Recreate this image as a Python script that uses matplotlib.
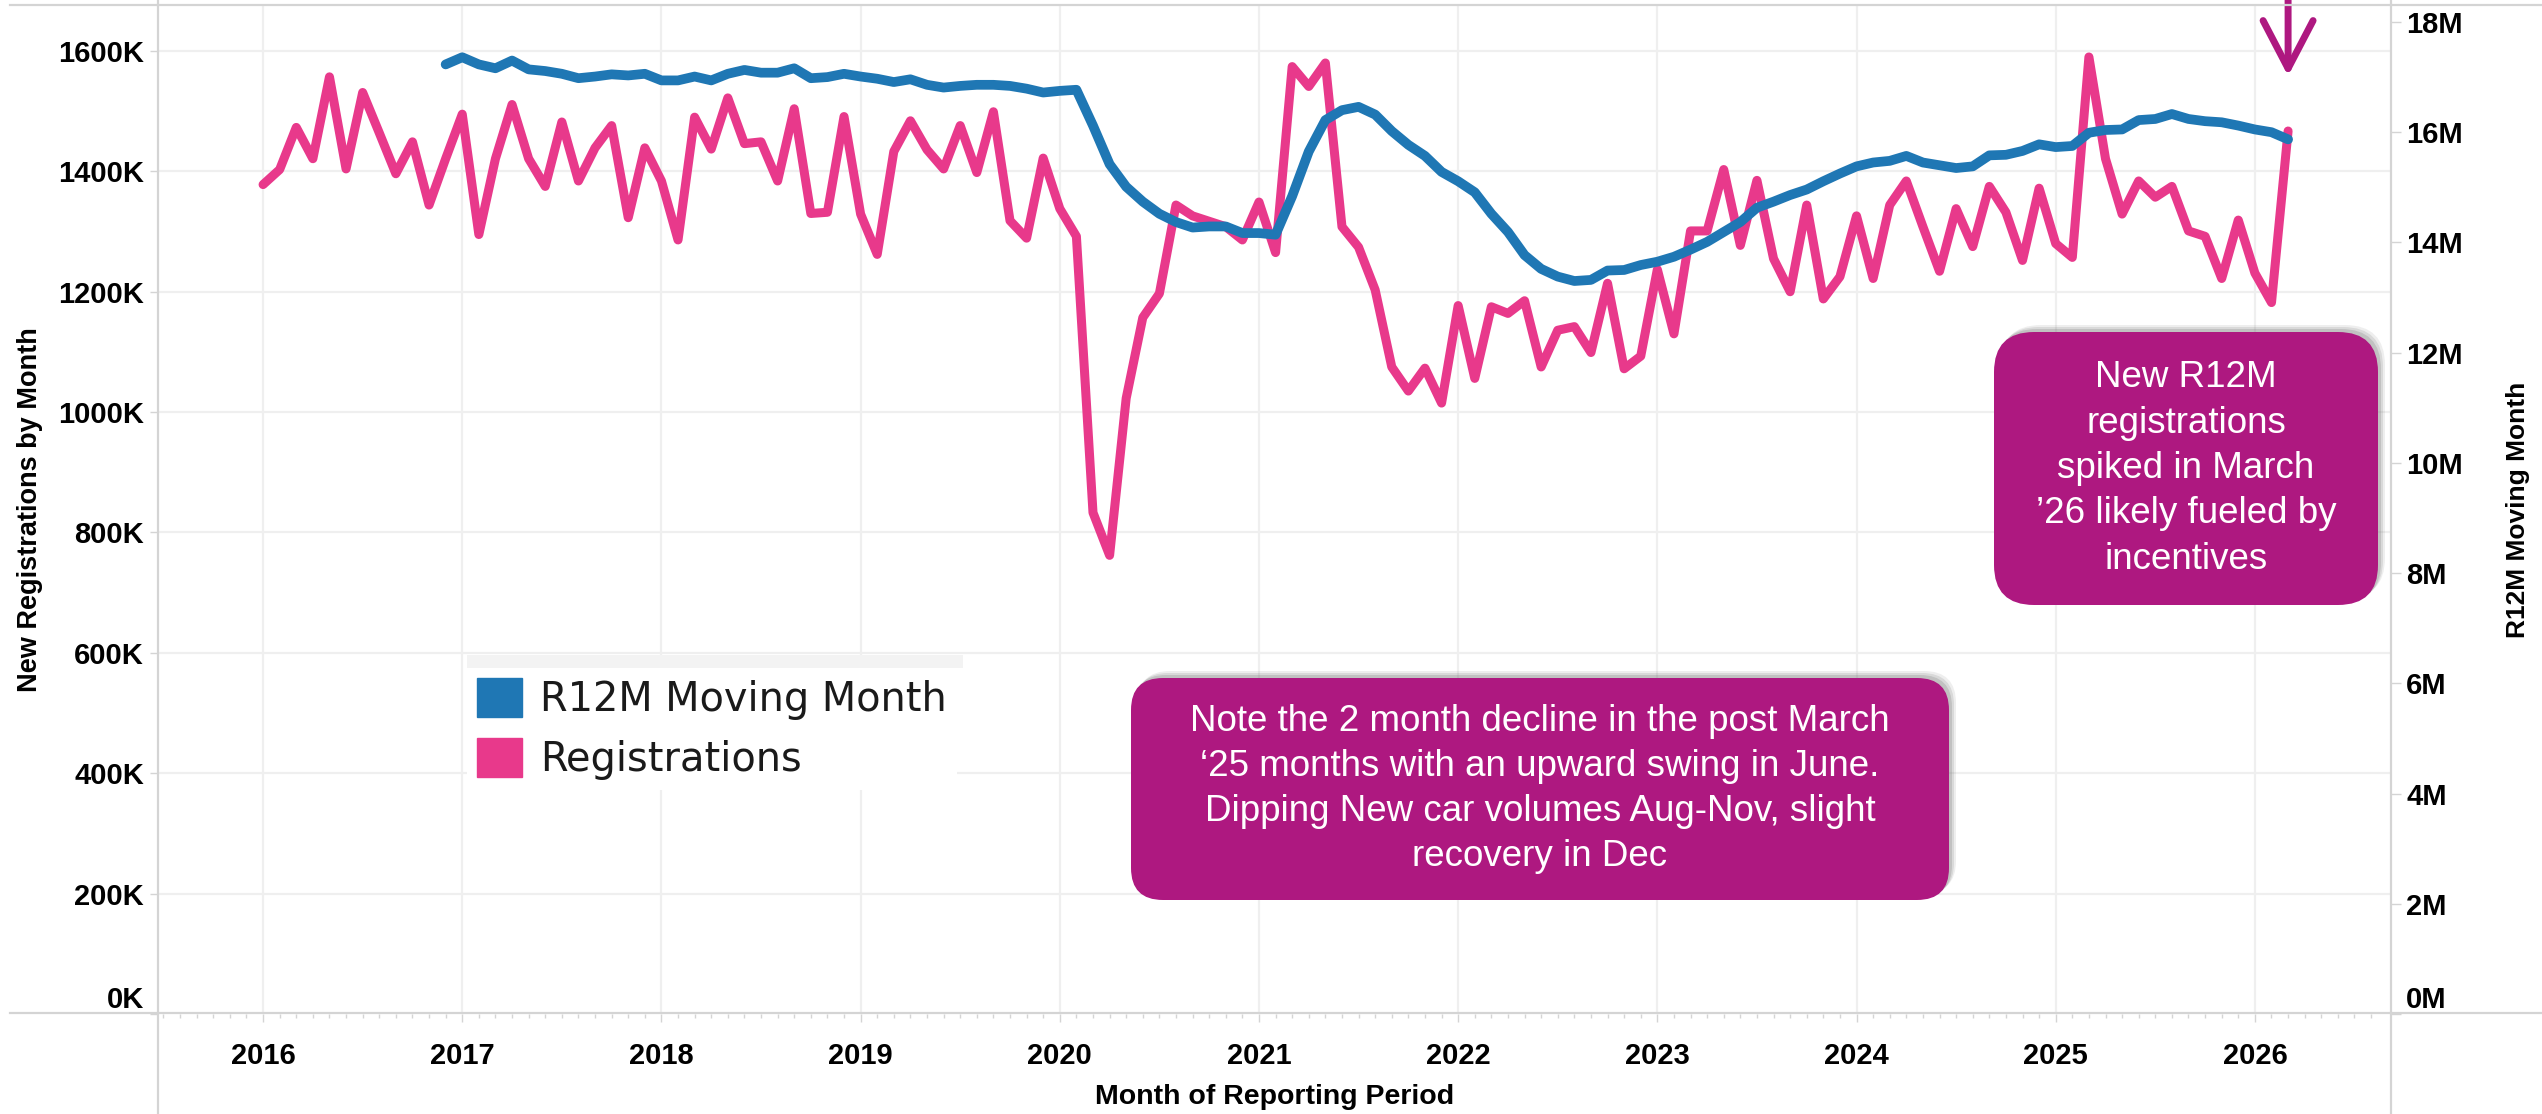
import matplotlib
matplotlib.use('Agg')
import matplotlib.pyplot as plt
import numpy as np
from matplotlib.patches import FancyBboxPatch, Patch, Rectangle
from matplotlib.lines import Line2D
from matplotlib.transforms import IdentityTransform

# monthly new registrations (thousands), Jan 2016 .. Mar 2026
registrations = [
	1378, 1403, 1473, 1421, 1557, 1404, 1531, 1464, 1396, 1449, 1344, 1421,
	1495, 1295, 1421, 1511, 1421, 1375, 1482, 1384, 1439, 1476, 1323, 1439,
	1384, 1286, 1490, 1437, 1522, 1446, 1449, 1384, 1504, 1330, 1332, 1491,
	1329, 1262, 1433, 1484, 1436, 1404, 1476, 1398, 1499, 1318, 1289, 1422,
	1338, 1292, 833, 762, 1023, 1157, 1197, 1344, 1326, 1317, 1308, 1286,
	1349, 1265, 1574, 1541, 1580, 1308, 1274, 1203, 1075, 1035, 1073, 1015,
	1177, 1056, 1175, 1164, 1185, 1075, 1136, 1142, 1099, 1214, 1072, 1093,
	1237, 1130, 1301, 1301, 1403, 1277, 1385, 1255, 1200, 1344, 1188, 1225,
	1326, 1222, 1344, 1384, 1308, 1234, 1338, 1275, 1375, 1332, 1252, 1372,
	1280, 1257, 1590, 1421, 1329, 1384, 1357, 1375, 1301, 1292, 1222, 1319,
	1231, 1182, 1467]

# rolling 12 month total (millions), Dec 2016 .. Mar 2026
r12m_first_month = 11
r12m = [
	17.23,
	17.36, 17.23, 17.16, 17.30, 17.14, 17.11, 17.06, 16.98, 17.01, 17.05, 17.03, 17.06,
	16.94, 16.94, 17.01, 16.94, 17.06, 17.13, 17.08, 17.08, 17.16, 16.98, 17.00, 17.06,
	17.01, 16.97, 16.91, 16.96, 16.86, 16.81, 16.84, 16.86, 16.86, 16.84, 16.79, 16.72,
	16.75, 16.77, 16.12, 15.42, 15.01, 14.74, 14.52, 14.37, 14.27, 14.29, 14.29, 14.17,
	14.17, 14.14, 14.84, 15.65, 16.22, 16.40, 16.46, 16.32, 16.02, 15.77, 15.57, 15.28,
	15.11, 14.91, 14.52, 14.19, 13.77, 13.52, 13.38, 13.30, 13.32, 13.49, 13.50, 13.59,
	13.65, 13.74, 13.87, 14.01, 14.19, 14.37, 14.63, 14.74, 14.86, 14.96, 15.11, 15.25,
	15.38, 15.45, 15.48, 15.57, 15.45, 15.40, 15.35, 15.38, 15.58, 15.59, 15.66, 15.78,
	15.73, 15.75, 15.99, 16.04, 16.05, 16.22, 16.24, 16.33, 16.24, 16.20, 16.18, 16.12,
	16.05, 16.00, 15.87]

years = list(range(2016, 2027))
left_ticks = [0, 200, 400, 600, 800, 1000, 1200, 1400, 1600]
right_ticks = [0, 2, 4, 6, 8, 10, 12, 14, 16, 18]

note_text = ("Note the 2 month decline in the post March\n"
	"\u201825 months with an upward swing in June.\n"
	"Dipping New car volumes Aug-Nov, slight\n"
	"recovery in Dec")
spike_text = ("New R12M\nregistrations\nspiked in March\n"
	"\u201926 likely fueled by\nincentives")

W, H = 2542, 1114
PINK = '#e8398b'
BLUE = '#1f77b4'
MAGENTA = '#ae1880'
GRID = '#efefef'
AXLINE = '#d4d4d4'
ARIAL = ['Liberation Sans', 'DejaVu Sans']


def fx(x):
	return x / W


def fy(y):
	return 1 - y / H


def callout(fig, x0, y0, x1, y1, text, radius):
	# soft shadow up/right, then the box itself (pixel coords)
	for off, a in ((7, 0.12), (5, 0.18), (3, 0.25)):
		sh = FancyBboxPatch((x0 + off, H - y1 + off), x1 - x0, y1 - y0,
			boxstyle='round,pad=0,rounding_size=%d' % radius,
			transform=IdentityTransform(), facecolor='#7a7a7a', edgecolor='none',
			alpha=a, zorder=6)
		fig.add_artist(sh)
	box = FancyBboxPatch((x0, H - y1), x1 - x0, y1 - y0,
		boxstyle='round,pad=0,rounding_size=%d' % radius,
		transform=IdentityTransform(), facecolor=MAGENTA, edgecolor='none', zorder=7)
	fig.add_artist(box)
	fig.text(fx((x0 + x1) / 2), fy((y0 + y1) / 2), text, ha='center', va='center',
		color='white', fontsize=26.5, family=ARIAL, linespacing=1.38, zorder=8)


def main():
	fig = plt.figure(figsize=(W / 100, H / 100), dpi=100)
	ax = fig.add_axes([fx(158), fy(1014), fx(2391 - 158), (1014 - 6) / H])
	ax2 = ax.twinx()

	months = np.arange(len(registrations))
	ax.plot(months, np.array(registrations) * 1000, color=PINK, lw=6.5,
		solid_joinstyle='round', solid_capstyle='round', zorder=3)
	m2 = np.arange(r12m_first_month, r12m_first_month + len(r12m))
	ax2.plot(m2, np.array(r12m) * 1e6, color=BLUE, lw=7,
		solid_joinstyle='round', solid_capstyle='round', zorder=3)

	ax.set_xlim(-6.33, 128.2)
	ax.set_ylim(0, 1674.7e3)
	ax2.set_ylim(0, 18.29e6)

	ax.set_yticks([v * 1000 for v in left_ticks])
	ax.set_yticklabels(['%dK' % v for v in left_ticks])
	ax2.set_yticks([v * 1e6 for v in right_ticks])
	ax2.set_yticklabels(['%dM' % v for v in right_ticks])
	ax.set_xticks([12 * i for i in range(len(years))])
	ax.set_xticklabels([str(y) for y in years])
	ax.set_xticks(np.arange(-6, 128), minor=True)

	for a in (ax, ax2):
		for s in a.spines.values():
			s.set_visible(False)
	ax.grid(True, which='major', color=GRID, lw=1.6, zorder=0)
	ax2.grid(False)

	tick_font = dict(family=ARIAL, weight='bold', size=21)
	ax.tick_params(axis='y', length=6, width=1, color=AXLINE, pad=4)
	ax2.tick_params(axis='y', length=7, width=1, color=AXLINE, pad=4)
	ax.tick_params(axis='x', which='major', length=6, width=1, color=AXLINE, pad=14)
	ax.tick_params(axis='x', which='minor', length=3, width=1, color=AXLINE)
	for lab in ax.get_yticklabels() + ax2.get_yticklabels() + ax.get_xticklabels():
		lab.set(**tick_font)
		lab.set_color('black')
	ax.get_yticklabels()[0].set_va('bottom')
	ax2.get_yticklabels()[0].set_va('bottom')

	ax.set_ylabel('New Registrations by Month', family=ARIAL, weight='bold', size=19.5)
	ax.yaxis.set_label_coords((30 - 158) / 2233, 0.5)
	ax.yaxis.label.set_va('center')
	ax2.set_ylabel('R12M Moving Month', rotation=90, family=ARIAL, weight='bold', size=19)
	ax2.yaxis.set_label_coords((2518 - 158) / 2233, 0.5)
	ax2.yaxis.label.set_va('center')
	ax.set_xlabel('Month of Reporting Period', family=ARIAL, weight='bold', size=20.5)
	ax.xaxis.set_label_coords(0.5, (1014 - 1097) / 1008)
	ax.xaxis.label.set_va('center')

	# tableau style pane borders
	for xs, ys in (([fx(158)] * 2, [0, 1]), ([fx(2391)] * 2, [0, 1]),
			([fx(10), 1], [fy(1013)] * 2), ([fx(10), 1], [fy(5)] * 2)):
		fig.add_artist(Line2D(xs, ys, color=AXLINE, lw=1.6, zorder=1))

	# legend
	fig.add_artist(Rectangle((fx(467), fy(668)), fx(496), 13 / H,
		facecolor='#f3f3f3', edgecolor='none', zorder=5))
	handles = [Patch(color=BLUE, label='R12M Moving Month'),
		Patch(color=PINK, label='Registrations')]
	leg = fig.legend(handles=handles, loc='upper left',
		bbox_to_anchor=(fx(467), fy(668)), bbox_transform=fig.transFigure,
		prop=dict(family='DejaVu Sans', size=28.7), frameon=True, fancybox=False,
		facecolor='white', edgecolor='none', framealpha=1, borderpad=0.25,
		borderaxespad=0, handlelength=1.13, handleheight=1.13,
		handletextpad=0.45, labelspacing=0.45)
	for t in leg.get_texts():
		t.set_color('#1a1a1a')

	callout(fig, 1131, 678, 1949, 900, note_text, 32)
	callout(fig, 1994, 332, 2378, 605, spike_text, 40)

	# arrow pointing at the last month
	ax2.annotate('', xy=(len(registrations) - 1, H - 76), xytext=(len(registrations) - 1, H + 4),
		xycoords=('data', 'figure pixels'), textcoords=('data', 'figure pixels'),
		arrowprops=dict(arrowstyle='->,head_length=1.15,head_width=0.6', color=MAGENTA,
			lw=5, mutation_scale=30, shrinkA=0, shrinkB=0),
		annotation_clip=False)

	fig.savefig('out.png', dpi=100)


if __name__ == '__main__':
	main()
